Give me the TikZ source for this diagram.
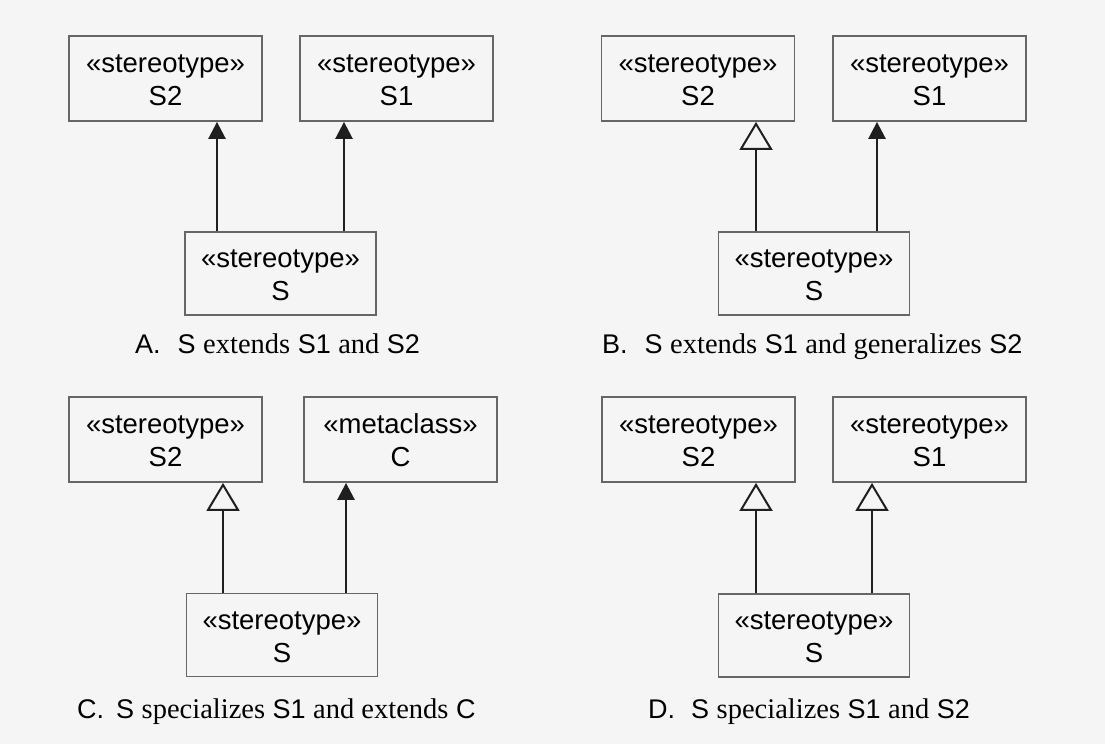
\documentclass[tikz,border=0pt]{standalone}
\usepackage{fontspec}
\setmainfont{Liberation Serif}
\newfontfamily\arial{Liberation Sans}
\usetikzlibrary{arrows.meta}
\newcommand\twolines[2]{\raisebox{-4pt}[\height][\depth]{\begin{tabular}{@{}c@{}}#1\\#2\end{tabular}}}
\newcommand\tw[1]{{\rmfamily\fontsize{28.5}{30}\selectfont #1}}
\begin{document}
\begin{tikzpicture}[x=1pt,y=-1pt,
 box/.style={draw=black!60, line width=1.8pt, minimum width=193pt, minimum height=85pt, inner sep=0pt, font=\arial\fontsize{27.5}{33}\selectfont},
 sbox/.style={box, minimum width=191pt, minimum height=83pt},
 ext/.style={draw=black!88, line width=2.6pt, -{Triangle[length=17pt,width=17pt]}},
 gen/.style={draw=black!88, line width=2.1pt, -{Triangle[open,length=28pt,width=33pt,line width=2pt]}},
 captext/.style={anchor=base west, inner sep=0pt, font=\arial\fontsize{27}{30}\selectfont}]
\fill[black!4] (0,0) rectangle (1105,744);
\useasboundingbox (0,0) rectangle (1105,744);
% Panel A
\node[box] (s2A) at (165.5,78.5) {\twolines{«stereotype»}{S2}};
\node[box] (s1A) at (396.5,78.5) {\twolines{«stereotype»}{S1}};
\node[sbox] (sA) at (280.5,273.5) {\twolines{«stereotype»}{S}};
\coordinate (xA1) at (217,0);
\coordinate (xA2) at (344,0);
\draw[ext] (sA.north -| xA1) -- (s2A.south -| xA1);
\draw[ext] (sA.north -| xA2) -- (s1A.south -| xA2);
\node[captext] (capA) at (135,353) {A.\hspace{17pt}S \tw{extends} S1 \tw{and} S2};
% Panel B
\node[box] (s2B) at (698,78.5) {\twolines{«stereotype»}{S2}};
\node[box] (s1B) at (929.5,78.5) {\twolines{«stereotype»}{S1}};
\node[sbox] (sB) at (814,273.5) {\twolines{«stereotype»}{S}};
\coordinate (xB1) at (756,0);
\coordinate (xB2) at (877,0);
\draw[gen] (sB.north -| xB1) -- (s2B.south -| xB1);
\draw[ext] (sB.north -| xB2) -- (s1B.south -| xB2);
\node[captext] (capB) at (602,353) {B.\hspace{17pt}S \tw{extends} S1 \tw{and generalizes} S2};
% Panel C
\node[box] (s2C) at (165.5,439.5) {\twolines{«stereotype»}{S2}};
\node[box] (cC) at (400.5,439.5) {\twolines{«metaclass»}{C}};
\node[sbox] (sC) at (282,635) {\twolines{«stereotype»}{S}};
\coordinate (xC1) at (223,0);
\coordinate (xC2) at (346,0);
\draw[gen] (sC.north -| xC1) -- (s2C.south -| xC1);
\draw[ext] (sC.north -| xC2) -- (cC.south -| xC2);
\node[captext] (capC) at (77,718) {C.\hspace{12pt}S \tw{specializes} S1 \tw{and extends} C};
% Panel D
\node[box] (s2D) at (698.5,439.5) {\twolines{«stereotype»}{S2}};
\node[box] (s1D) at (929.5,439.5) {\twolines{«stereotype»}{S1}};
\node[sbox] (sD) at (814,635.5) {\twolines{«stereotype»}{S}};
\coordinate (xD1) at (756,0);
\coordinate (xD2) at (872,0);
\draw[gen] (sD.north -| xD1) -- (s2D.south -| xD1);
\draw[gen] (sD.north -| xD2) -- (s1D.south -| xD2);
\node[captext] (capD) at (648,718) {D.\hspace{16pt}S \tw{specializes} S1 \tw{and} S2};
\end{tikzpicture}
\end{document}
